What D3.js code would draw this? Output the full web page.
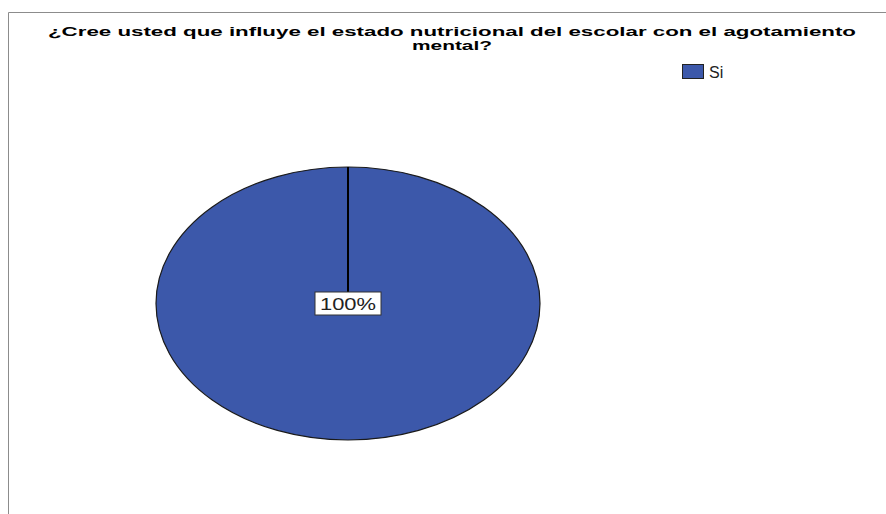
<!DOCTYPE html>
<html>
<head>
<meta charset="utf-8">
<script src="https://cdn.jsdelivr.net/npm/d3@7"></script>
<style>
  body { margin: 0; background: #fff; }
  text { font-family: "Liberation Sans", Arial, sans-serif; }
</style>
</head>
<body>
<div id="chart"></div>
<script>
var svgWidth = 886;
var svgHeight = 514;

// data
var categories = ['Si'];
var counts = [100];
var colors = ['#3c58aa'];
var titleLines = ['¿Cree usted que influye el estado nutricional del escolar con el agotamiento', 'mental?'];

var svg = d3.select('#chart').append('svg')
  .attr('width', svgWidth)
  .attr('height', svgHeight);

// frame (top and left border)
svg.append('line')
  .attr('x1', 8.5).attr('y1', 12.5).attr('x2', svgWidth).attr('y2', 12.5)
  .attr('stroke', '#8c8c8c').attr('stroke-width', 1);
svg.append('line')
  .attr('x1', 8.5).attr('y1', 12.5).attr('x2', 8.5).attr('y2', svgHeight)
  .attr('stroke', '#8c8c8c').attr('stroke-width', 1);

// title - the original image is stretched sideways, so widths are forced
var titleWidths = [808, 80];
svg.append('g').attr('class', 'title')
  .selectAll('text')
  .data(titleLines)
  .enter()
  .append('text')
  .attr('x', 452)
  .attr('y', (d, i) => 35.5 + i * 14)
  .attr('text-anchor', 'middle')
  .attr('font-weight', 'bold')
  .attr('font-size', '12.5px')
  .attr('fill', '#000')
  .attr('textLength', (d, i) => titleWidths[i])
  .attr('lengthAdjust', 'spacingAndGlyphs')
  .text(d => d);

// pie (elliptical)
var cx = 348, cy = 303.5, rx = 192, ry = 136.5;
var total = d3.sum(counts);
var pie = d3.pie().sort(null)(counts);
var arc = d3.arc().innerRadius(0).outerRadius(rx);

var pieGroup = svg.append('g')
  .attr('transform', `translate(${cx}, ${cy}) scale(1, ${ry / rx})`);

pieGroup.selectAll('path')
  .data(pie)
  .enter()
  .append('path')
  .attr('d', arc)
  .attr('fill', (d, i) => colors[i])
  .attr('stroke', '#1a1a1a')
  .attr('stroke-width', 1.2)
  .attr('vector-effect', 'non-scaling-stroke');

// slice boundary lines
pieGroup.selectAll('line.edge')
  .data(pie)
  .enter()
  .append('line')
  .attr('class', 'edge')
  .attr('x1', 0).attr('y1', 0)
  .attr('x2', d => rx * Math.sin(d.startAngle))
  .attr('y2', d => -rx * Math.cos(d.startAngle))
  .attr('stroke', '#000')
  .attr('stroke-width', 2)
  .attr('vector-effect', 'non-scaling-stroke');

// percentage labels
var labels = svg.selectAll('g.label')
  .data(pie)
  .enter()
  .append('g')
  .attr('class', 'label')
  .attr('transform', d => {
    var c = counts.length === 1 ? [0, 0] : arc.centroid(d);
    return `translate(${cx + c[0]}, ${cy + c[1] * ry / rx})`;
  });

labels.append('rect')
  .attr('x', -33).attr('y', -11.5)
  .attr('width', 66).attr('height', 23)
  .attr('fill', '#fff')
  .attr('stroke', '#333')
  .attr('stroke-width', 1);

labels.append('text')
  .attr('x', 0).attr('y', 6.5)
  .attr('text-anchor', 'middle')
  .attr('font-size', '17px')
  .attr('fill', '#222')
  .attr('textLength', 56)
  .attr('lengthAdjust', 'spacingAndGlyphs')
  .text(d => Math.round(d.value / total * 100) + '%');

// legend
var legend = svg.selectAll('g.legend')
  .data(categories)
  .enter()
  .append('g')
  .attr('class', 'legend')
  .attr('transform', (d, i) => `translate(682, ${64 + i * 20})`);

legend.append('rect')
  .attr('x', 0.5).attr('y', 0.5)
  .attr('width', 21).attr('height', 14)
  .attr('fill', (d, i) => colors[i])
  .attr('stroke', '#222')
  .attr('stroke-width', 1);

legend.append('text')
  .attr('x', 27).attr('y', 14)
  .attr('font-size', '16px')
  .attr('fill', '#222')
  .text(d => d);
</script>
</body>
</html>
